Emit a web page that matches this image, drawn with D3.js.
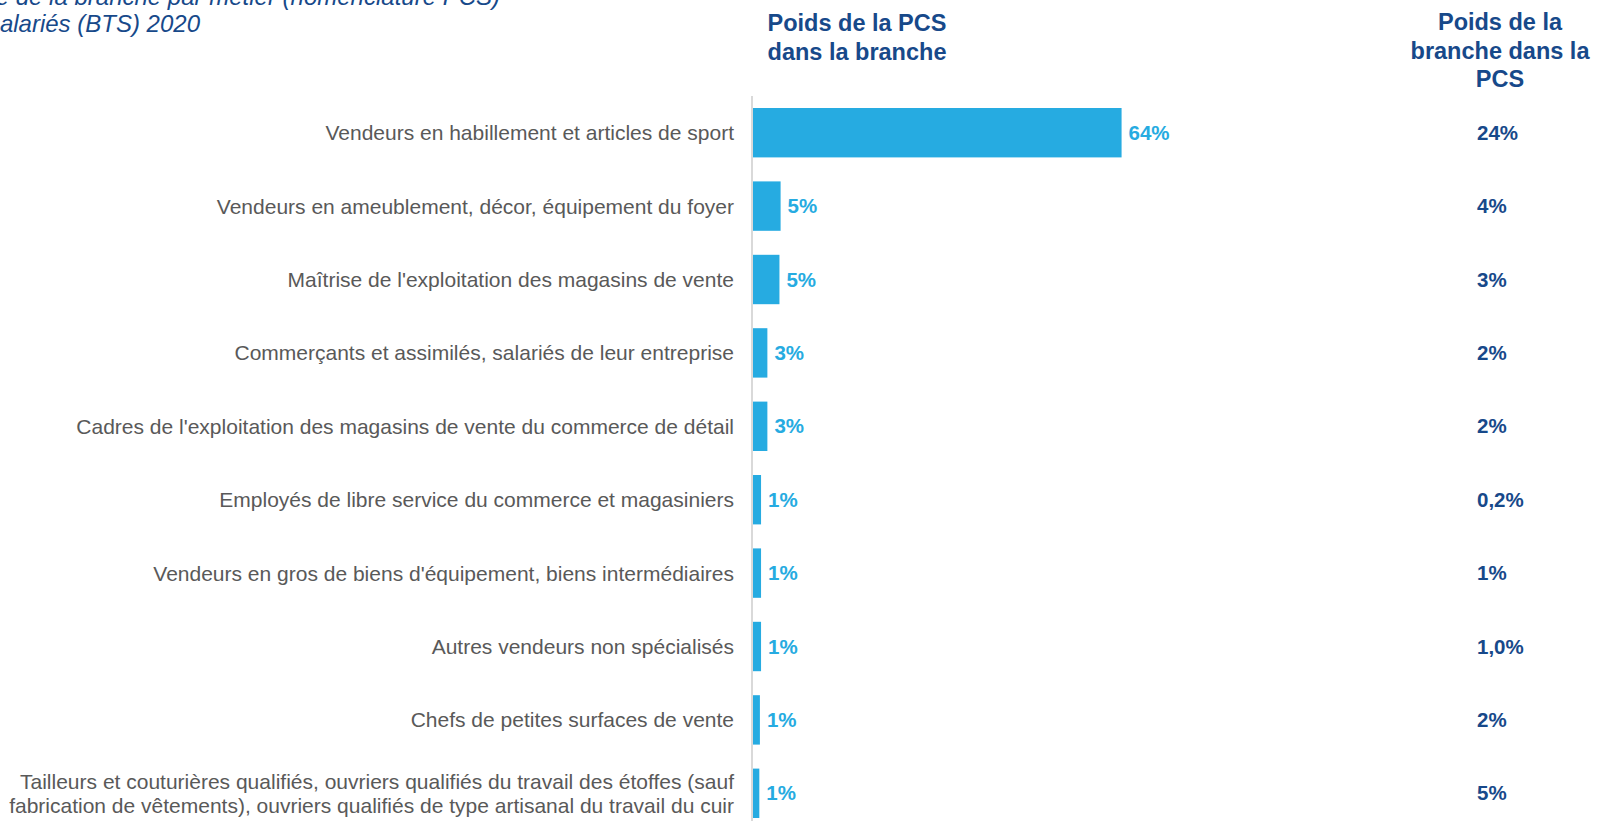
<!DOCTYPE html>
<html><head><meta charset="utf-8">
<script src="https://cdn.jsdelivr.net/npm/d3@7"></script>
<style>
html,body{margin:0;padding:0;background:#fff;overflow:hidden}
svg{display:block;font-family:"Liberation Sans",Arial,sans-serif}
</style></head>
<body>
<svg id="chart" width="1597" height="821"></svg>
<script>
const categories = [
  ["Vendeurs en habillement et articles de sport"],
  ["Vendeurs en ameublement, décor, équipement du foyer"],
  ["Maîtrise de l'exploitation des magasins de vente"],
  ["Commerçants et assimilés, salariés de leur entreprise"],
  ["Cadres de l'exploitation des magasins de vente du commerce de détail"],
  ["Employés de libre service du commerce et magasiniers"],
  ["Vendeurs en gros de biens d'équipement, biens intermédiaires"],
  ["Autres vendeurs non spécialisés"],
  ["Chefs de petites surfaces de vente"],
  ["Tailleurs et couturières qualifiés, ouvriers qualifiés du travail des étoffes (sauf",
   "fabrication de vêtements), ouvriers qualifiés de type artisanal du travail du cuir"]
];
const poidsPCS = [64.1, 4.8, 4.6, 2.5, 2.5, 1.4, 1.4, 1.4, 1.2, 1.1];
const poidsPCSLabels = ["64%", "5%", "5%", "3%", "3%", "1%", "1%", "1%", "1%", "1%"];
const poidsBrancheLabels = ["24%", "4%", "3%", "2%", "2%", "0,2%", "1%", "1,0%", "2%", "5%"];
const header1 = ["Poids de la PCS", "dans la branche"];
const header2 = ["Poids de la", "branche dans la", "PCS"];
const titleLines = ["Structure de la branche par métier (nomenclature PCS)", "Effectifs salariés (BTS) 2020"];

const svg = d3.select("#chart");
const dark = "#17498A", bar = "#26ABE1", grey = "#595959";
const ids = d3.range(categories.length);

const y = d3.scaleBand().domain(ids).range([96, 830]).paddingInner(0.327).paddingOuter(0.1635);
const x = d3.scaleLinear().domain([0, 100]).range([753, 1328]);

// title (cut off at left edge, as in the reference)
const titleEnds = [500, 200];
svg.append("g").selectAll("text").data(titleLines).join("text")
  .attr("x", (d, i) => titleEnds[i]).attr("y", (d, i) => 5 + i * 26.5)
  .attr("text-anchor", "end").attr("font-style", "italic")
  .attr("font-size", 24).attr("fill", dark).text(d => d);

// headers
svg.append("g").selectAll("text").data(header1).join("text")
  .attr("x", 857).attr("y", (d, i) => 31 + i * 28.5)
  .attr("text-anchor", "middle").attr("font-weight", "bold")
  .attr("font-size", 23.5).attr("fill", dark).text(d => d);
svg.append("g").selectAll("text").data(header2).join("text")
  .attr("x", 1500).attr("y", (d, i) => 30 + i * 28.5)
  .attr("text-anchor", "middle").attr("font-weight", "bold")
  .attr("font-size", 23.5).attr("fill", dark).text(d => d);

// axis line
svg.append("line").attr("x1", 752).attr("x2", 752).attr("y1", 96).attr("y2", 821)
  .attr("stroke", "#d9d9d9").attr("stroke-width", 2);

// bars
svg.append("g").selectAll("rect").data(ids).join("rect")
  .attr("x", x(0)).attr("y", i => y(i)).attr("height", y.bandwidth())
  .attr("width", i => x(poidsPCS[i]) - x(0)).attr("fill", bar);

// bar labels
svg.append("g").selectAll("text").data(ids).join("text")
  .attr("x", i => x(poidsPCS[i]) + 7).attr("y", i => y(i) + y.bandwidth() / 2 + 7)
  .attr("font-weight", "bold").attr("font-size", 20.5).attr("fill", bar)
  .text(i => poidsPCSLabels[i]);

// right column
svg.append("g").selectAll("text").data(ids).join("text")
  .attr("x", 1477).attr("y", i => y(i) + y.bandwidth() / 2 + 7)
  .attr("font-weight", "bold").attr("font-size", 20.5).attr("fill", dark)
  .text(i => poidsBrancheLabels[i]);

// category labels
const cat = svg.append("g").selectAll("text").data(ids).join("text")
  .attr("text-anchor", "end").attr("font-size", 21).attr("fill", grey)
  .attr("y", i => y(i) + y.bandwidth() / 2);
cat.each(function(i) {
  const lines = categories[i];
  const n = lines.length;
  d3.select(this).selectAll("tspan").data(lines).join("tspan")
    .attr("x", 734)
    .attr("dy", (d, k) => k === 0 ? (7.5 - (n - 1) * 12.25) : 24.5)
    .text(d => d);
});
</script>
</body></html>
